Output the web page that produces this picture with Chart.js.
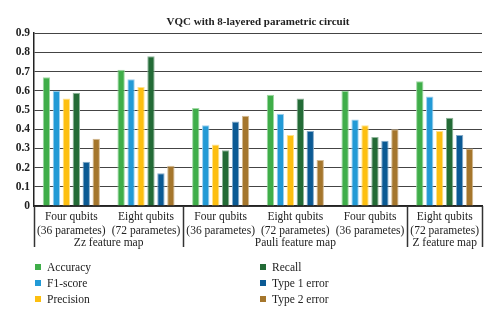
<!DOCTYPE html>
<html>
<head>
<meta charset="utf-8">
<script src="https://cdn.jsdelivr.net/npm/chart.js@4/dist/chart.umd.min.js"></script>
<style>
  html, body { margin: 0; padding: 0; background: #fff; }
  #wrap { position: relative; width: 500px; height: 323px; }
  #legend { position: absolute; left: 0; top: 0; width: 500px; height: 323px; pointer-events: none;
            font-family: "Liberation Serif", "DejaVu Serif", serif; font-size: 11.5px; color: #222; }
  .li { position: absolute; white-space: nowrap; line-height: 14px; }
  .sw { position: absolute; width: 6px; height: 6px; }
</style>
</head>
<body>
<div id="wrap">
  <canvas id="c" width="500" height="323"></canvas>
  <div id="legend"></div>
</div>
<script>
const categories = [
  ["Four qubits", "(36 parametes)"],
  ["Eight qubits", "(72 parametes)"],
  ["Four qubits", "(36 parametes)"],
  ["Eight qubits", "(72 parametes)"],
  ["Four qubits", "(36 parametes)"],
  ["Eight qubits", "(72 parametes)"]
];
const featureMaps = ["Zz feature map", "Pauli feature map", "Z feature map"];
const featureMapSpans = [2, 3, 1];
const seriesNames = ["Accuracy", "F1-score", "Precision", "Recall", "Type 1 error", "Type 2 error"];
const accuracy   = [0.67, 0.71, 0.51, 0.58, 0.60, 0.65];
const f1score    = [0.60, 0.66, 0.42, 0.48, 0.45, 0.57];
const precision  = [0.56, 0.62, 0.32, 0.37, 0.42, 0.39];
const recall     = [0.59, 0.78, 0.29, 0.56, 0.36, 0.46];
const type1error = [0.23, 0.17, 0.44, 0.39, 0.34, 0.37];
const type2error = [0.35, 0.21, 0.47, 0.24, 0.40, 0.30];
const yTicks = [0, 0.1, 0.2, 0.3, 0.4, 0.5, 0.6, 0.7, 0.8, 0.9];

const colors = ["#3fae49", "#229ad6", "#fdbf10", "#236b36", "#0b5a94", "#a5762c"];
const borders = ["#9fd8a3", "#9fd0ee", "#ffe28a", "#8fb59a", "#86abc9", "#d4bb93"];
const values = [accuracy, f1score, precision, recall, type1error, type2error];

const serif = "'Liberation Serif', 'DejaVu Serif', serif";

const groupPlugin = {
  id: 'groups',
  afterDraw(chart) {
    const ctx = chart.ctx;
    const x = chart.scales.x;
    const bottom = chart.chartArea.bottom;
    ctx.save();
    ctx.strokeStyle = '#333';
    ctx.lineWidth = 1.5;
    let start = 0;
    const bounds = [0];
    featureMapSpans.forEach(s => { start += s; bounds.push(start); });
    bounds.forEach(b => {
      const px = Math.round(x.getPixelForValue(b - 0.5)) + 0.5;
      ctx.beginPath();
      ctx.moveTo(px, bottom);
      ctx.lineTo(px, bottom + 41);
      ctx.stroke();
    });
    ctx.fillStyle = '#222';
    ctx.font = "11.5px " + serif;
    ctx.textAlign = 'center';
    ctx.textBaseline = 'middle';
    featureMaps.forEach((name, i) => {
      const c = (bounds[i] + bounds[i + 1] - 1) / 2;
      ctx.fillText(name, x.getPixelForValue(c), bottom + 37);
    });
    ctx.restore();
  }
};

const chart = new Chart(document.getElementById('c'), {
  type: 'bar',
  data: {
    labels: categories,
    datasets: seriesNames.map((n, i) => ({
      label: n,
      data: values[i],
      backgroundColor: colors[i],
      borderColor: borders[i],
      borderWidth: 1,
      categoryPercentage: 0.8,
      barPercentage: 0.74
    }))
  },
  options: {
    responsive: false,
    animation: false,
    layout: { padding: { left: 0, right: 18, top: 0, bottom: 0 } },
    plugins: {
      legend: { display: false },
      tooltip: { enabled: false },
      title: {
        display: true,
        fullSize: false,
        text: 'VQC with 8-layered parametric circuit',
        color: '#222',
        font: { family: serif, size: 11, weight: 'bold' },
        padding: { top: 16, bottom: 4 }
      }
    },
    scales: {
      x: {
        grid: { display: false, drawTicks: false },
        border: { display: true, color: '#222', width: 1.5 },
        ticks: { color: '#222', font: { family: serif, size: 11.5 }, padding: 4, maxRotation: 0, autoSkip: false },
        afterFit(s) { s.height = 117; }
      },
      y: {
        min: 0, max: 0.9,
        afterBuildTicks(s) { s.ticks = yTicks.map(v => ({ value: v })); },
        grid: { color: '#444', lineWidth: 1, borderDash: [1.5, 8.5], drawTicks: false },
        border: { display: true, color: '#222', width: 1.5, dash: [] },
        ticks: {
          color: '#222', padding: 4,
          font: { family: serif, size: 11.5, weight: 'bold' },
          callback: v => (v === 0 ? '0' : v.toFixed(1))
        },
        afterFit(s) { s.width = 34; }
      }
    }
  },
  plugins: [groupPlugin]
});

// HTML legend in two columns
const legend = document.getElementById('legend');
const colX = [35, 260];
const rowY = [267, 283, 299];
seriesNames.forEach((n, i) => {
  const col = Math.floor(i / 3), row = i % 3;
  const sw = document.createElement('div');
  sw.className = 'sw';
  sw.style.left = colX[col] + 'px';
  sw.style.top = (rowY[row] - 3) + 'px';
  sw.style.background = colors[i];
  legend.appendChild(sw);
  const t = document.createElement('div');
  t.className = 'li';
  t.style.left = (colX[col] + 12) + 'px';
  t.style.top = (rowY[row] - 7) + 'px';
  t.textContent = n;
  legend.appendChild(t);
});
</script>
</body>
</html>
